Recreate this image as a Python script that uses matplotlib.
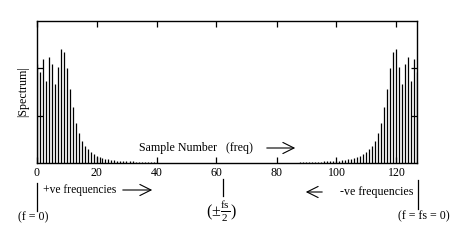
import numpy as np
import matplotlib
matplotlib.use('Agg')
import matplotlib.pyplot as plt
from matplotlib.lines import Line2D

# |Spectrum| magnitudes
# positive frequencies, samples 0..40
pos_values = [2.08, 1.91, 2.18, 1.73, 2.24, 2.08, 1.66, 2.02, 2.39, 2.33,
              1.99, 1.56, 1.18, 0.85, 0.63, 0.46, 0.36, 0.29, 0.23, 0.19,
              0.15, 0.12, 0.10, 0.09, 0.075, 0.065, 0.055, 0.05, 0.045, 0.04,
              0.04, 0.035, 0.035, 0.03, 0.03, 0.03, 0.03, 0.025, 0.025, 0.025, 0.025]
pos_samples = np.arange(0, 41)

# negative frequencies, samples 88..127
neg_values = [0.025, 0.025, 0.025, 0.025, 0.03, 0.03, 0.03, 0.03, 0.035, 0.035, 0.04,
              0.04, 0.045, 0.05, 0.055, 0.065, 0.075, 0.09, 0.10, 0.12, 0.15,
              0.19, 0.23, 0.29, 0.36, 0.46, 0.63, 0.85, 1.18, 1.56, 1.99,
              2.33, 2.39, 2.02, 1.66, 2.08, 2.24, 1.73, 2.18, 1.91]
neg_samples = np.arange(88, 128)

x_ticks = [0, 20, 40, 60, 80, 100, 120]
y_ticks = [1, 2]

W, H = 463, 241
plt.rcParams['font.family'] = ['Liberation Serif', 'DejaVu Serif']
plt.rcParams['mathtext.fontset'] = 'custom'
plt.rcParams['mathtext.rm'] = 'Liberation Serif'
plt.rcParams['mathtext.it'] = 'Liberation Serif'

fig = plt.figure(figsize=(W / 100, H / 100), dpi=100)
ax = fig.add_axes([36.5 / W, 1 - 163 / H, 381 / W, 142.5 / H])

ax.vlines(pos_samples, 0, pos_values, colors='black', linewidth=0.9)
ax.vlines(neg_samples, 0, neg_values, colors='black', linewidth=0.9)

ax.set_xlim(0, 127)
ax.set_ylim(0, 3)
ax.set_xticks(x_ticks)
ax.set_yticks(y_ticks)
ax.set_yticklabels([])
ax.tick_params(direction='in', length=4.5, width=0.9, top=True, right=True,
               labelsize=8.6, pad=3)
for s in ax.spines.values():
    s.set_linewidth(1.0)


def fx(px):
    return px / W


def fy(py):
    return 1 - py / H


fig.text(fx(23), fy(92), '|Spectrum|', rotation=90, ha='center', va='center', fontsize=8.6)
fig.text(fx(139), fy(148), 'Sample Number   (freq)', ha='left', va='center', fontsize=8.6)
fig.text(fx(43), fy(190), '+ve frequencies', ha='left', va='center', fontsize=8.3)
fig.text(fx(18), fy(217), '(f = 0)', ha='left', va='center', fontsize=8.6)
fig.text(fx(221), fy(211), r'$(\pm\frac{\mathrm{fs}}{2})$', ha='center', va='center', fontsize=11.5)
fig.text(fx(413), fy(192), '-ve frequencies', ha='right', va='center', fontsize=8.6)
fig.text(fx(398), fy(216), '(f = fs = 0)', ha='left', va='center', fontsize=8.6)

arrow = dict(arrowstyle='->,head_length=0.8,head_width=0.4', color='black', lw=0.8)
ax.annotate('', xy=(298, H - 148), xytext=(264, H - 148), xycoords='figure pixels',
            textcoords='figure pixels', arrowprops=arrow)
ax.annotate('', xy=(155, H - 190), xytext=(120, H - 190), xycoords='figure pixels',
            textcoords='figure pixels', arrowprops=arrow)
ax.annotate('', xy=(303, H - 192), xytext=(325, H - 192), xycoords='figure pixels',
            textcoords='figure pixels', arrowprops=arrow)

for x0, y0, y1 in [(36.5, 183, 211), (223, 179, 196), (417.5, 180, 209)]:
    fig.add_artist(Line2D([fx(x0), fx(x0)], [fy(y0), fy(y1)], color='black', lw=0.9))

fig.savefig('out.png', dpi=100)
